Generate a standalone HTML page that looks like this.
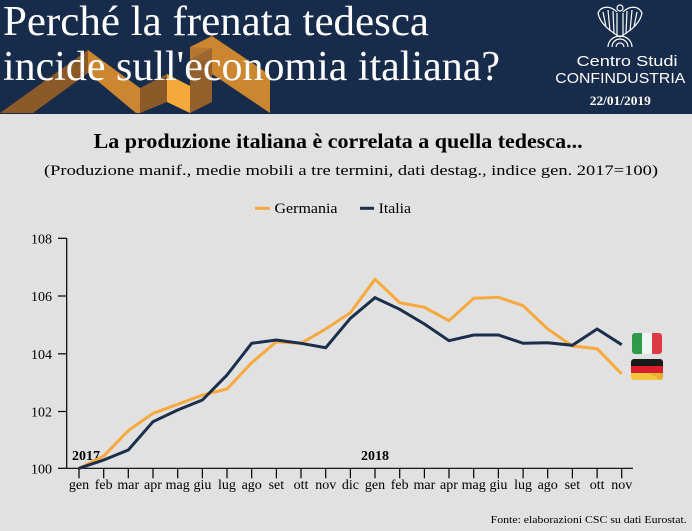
<!DOCTYPE html>
<html><head><meta charset="utf-8">
<style>
html,body{margin:0;padding:0;background:#e1e1e1;}
svg{display:block;}
</style></head><body>
<svg width="692" height="531" viewBox="0 0 692 531" xmlns="http://www.w3.org/2000/svg" font-family="'Liberation Serif', serif">
<rect width="692" height="531" fill="#e1e1e1"/>
<rect width="692" height="114" fill="#172b4b"/>
<!-- decorative ribbon -->
<polygon points="0,113 88,50 88,73 33,113" fill="#8c5a28"/>
<polygon points="88,50 140,88 140,113 136,113 88,73" fill="#cd8630"/>
<polygon points="140,88 167,74 167,102 140,113" fill="#8c5a28"/>
<polygon points="167,74 190,86 190,113 167,102" fill="#f5a93b"/>
<polygon points="190,60 212,48 212,102 190,113" fill="#93602b"/>
<polygon points="190,47 212,36 212,48 190,60" fill="#cd8630"/>
<polygon points="212,36 270,75 270,113 212,74" fill="#cd8630"/>
<polygon points="190,47 212,48 212,60 190,60" fill="#a56d2f" opacity="0.6"/>
<text x="3" y="35" font-size="42" fill="#fff" textLength="426" lengthAdjust="spacingAndGlyphs">Perché la frenata tedesca</text>
<text x="3" y="80" font-size="42" fill="#fff" textLength="497" lengthAdjust="spacingAndGlyphs">incide sull'economia italiana?</text>
<!-- logo -->
<g fill="none" stroke="#fff" stroke-width="1.2">
<circle cx="620" cy="8" r="3"/>
<path d="M617,12 C610,5 601,6 598,13 C600,24 610,31 620,37"/>
<path d="M623,12 C630,5 639,6 642,13 C640,24 630,31 620,37"/>
<path d="M603,12 L606,27 M608,10 L610,31 M613,11 L614,34"/>
<path d="M637,12 L634,27 M632,10 L630,31 M627,11 L626,34"/>
<path d="M617,13 L617,36 M623,13 L623,36"/>
<path d="M608,47 A12,11 0 0 1 632,47"/>
<path d="M612,47 A8,8 0 0 1 628,47"/>
<path d="M616,47 A4,4 0 0 1 624,47"/>
</g>
<text x="627" y="66" font-family="'Liberation Sans', sans-serif" font-size="15" fill="#fff" text-anchor="middle" textLength="101" lengthAdjust="spacingAndGlyphs">Centro Studi</text>
<text x="620.3" y="83" font-family="'Liberation Sans', sans-serif" font-size="15" fill="#fff" text-anchor="middle" textLength="130" lengthAdjust="spacingAndGlyphs">CONFINDUSTRIA</text>
<text x="620.3" y="105" font-size="13" font-weight="bold" fill="#fff" text-anchor="middle" textLength="61" lengthAdjust="spacingAndGlyphs">22/01/2019</text>
<!-- chart titles -->
<text x="93.6" y="148" font-size="21" font-weight="bold" fill="#000" textLength="489" lengthAdjust="spacingAndGlyphs">La produzione italiana è correlata a quella tedesca...</text>
<text x="44" y="175" font-size="15" fill="#000" textLength="614" lengthAdjust="spacingAndGlyphs">(Produzione manif., medie mobili a tre termini, dati destag., indice gen. 2017=100)</text>
<!-- legend -->
<line x1="255" y1="208.3" x2="270" y2="208.3" stroke="#f7a93c" stroke-width="3"/>
<text x="274.5" y="213" font-size="15" fill="#000" textLength="63" lengthAdjust="spacingAndGlyphs">Germania</text>
<line x1="360" y1="208.3" x2="374" y2="208.3" stroke="#1b2e4b" stroke-width="3"/>
<text x="378.6" y="213" font-size="15" fill="#000" textLength="32.4" lengthAdjust="spacingAndGlyphs">Italia</text>
<!-- axes -->
<g stroke="#000" stroke-width="1.2" fill="none">
<line x1="66.7" y1="238" x2="66.7" y2="468.3"/>
<line x1="66.7" y1="468.3" x2="633" y2="468.3"/>
<line x1="58" y1="238.3" x2="66.7" y2="238.3"/>
<line x1="58" y1="296" x2="66.7" y2="296"/>
<line x1="58" y1="353.8" x2="66.7" y2="353.8"/>
<line x1="58" y1="411.5" x2="66.7" y2="411.5"/>
<line x1="58" y1="468.3" x2="66.7" y2="468.3"/>
<path d="M79,468.3v10 M103.7,468.3v10 M128.3,468.3v10 M153,468.3v10 M177.7,468.3v10 M202.4,468.3v10 M227,468.3v10 M251.7,468.3v10 M276.4,468.3v10 M301,468.3v10 M325.7,468.3v10 M350.4,468.3v10 M375,468.3v10 M399.7,468.3v10 M424.4,468.3v10 M449,468.3v10 M473.7,468.3v10 M498.4,468.3v10 M523.1,468.3v10 M547.7,468.3v10 M572.4,468.3v10 M597.1,468.3v10 M621.7,468.3v10"/>
</g>
<g font-size="14" fill="#000" text-anchor="end">
<text x="52" y="243.3">108</text>
<text x="52" y="301">106</text>
<text x="52" y="358.8">104</text>
<text x="52" y="416.5">102</text>
<text x="52" y="473.3">100</text>
</g>
<g font-size="14" fill="#000" text-anchor="middle">
<text x="79" y="489">gen</text>
<text x="103.7" y="489">feb</text>
<text x="128.3" y="489">mar</text>
<text x="153" y="489">apr</text>
<text x="177.7" y="489">mag</text>
<text x="202.4" y="489">giu</text>
<text x="227" y="489">lug</text>
<text x="251.7" y="489">ago</text>
<text x="276.4" y="489">set</text>
<text x="301" y="489">ott</text>
<text x="325.7" y="489">nov</text>
<text x="350.4" y="489">dic</text>
<text x="375" y="489">gen</text>
<text x="399.7" y="489">feb</text>
<text x="424.4" y="489">mar</text>
<text x="449" y="489">apr</text>
<text x="473.7" y="489">mag</text>
<text x="498.4" y="489">giu</text>
<text x="523.1" y="489">lug</text>
<text x="547.7" y="489">ago</text>
<text x="572.4" y="489">set</text>
<text x="597.1" y="489">ott</text>
<text x="621.7" y="489">nov</text>
</g>
<text x="72" y="460" font-size="14" font-weight="bold" fill="#000">2017</text>
<text x="375" y="460" font-size="14" font-weight="bold" fill="#000" text-anchor="middle">2018</text>
<!-- series -->
<polyline fill="none" stroke="#f7a93c" stroke-width="3" points="79,468.3 103.7,456 128.3,430.7 153,413.3 177.7,404.3 202.4,395 227,389 251.7,362.7 276.4,341.7 301,343.3 325.7,329 350.4,312.7 375,279.3 399.7,302.7 424.4,307.3 449,320.7 473.7,298.3 498.4,297.3 523.1,305.7 547.7,329 572.4,346 597.1,348.7 621.7,374"/>
<polyline fill="none" stroke="#1b2e4b" stroke-width="3" points="79,468.3 103.7,460 128.3,450 153,421.7 177.7,410 202.4,400 227,375 251.7,343.3 276.4,340 301,343.3 325.7,347.7 350.4,318.3 375,297.7 399.7,309.3 424.4,324 449,340.7 473.7,335 498.4,335 523.1,343.3 547.7,342.7 572.4,345.3 597.1,329 621.7,344.7"/>
<!-- flags -->
<defs>
<clipPath id="itc"><rect x="632" y="333" width="30" height="21" rx="3"/></clipPath>
<clipPath id="dec"><rect x="631" y="359" width="32" height="21" rx="3"/></clipPath>
</defs>
<g clip-path="url(#itc)">
<rect x="632" y="333" width="10" height="21" fill="#2e9a4a"/>
<rect x="642" y="333" width="10" height="21" fill="#eef6f4"/>
<rect x="652" y="333" width="10" height="21" fill="#dc3a44"/>
</g>
<g clip-path="url(#dec)">
<rect x="631" y="359" width="32" height="7" fill="#1a1a1a"/>
<rect x="631" y="366" width="32" height="7" fill="#d7202a"/>
<rect x="631" y="373" width="32" height="7" fill="#f5c542"/>
<polygon points="650,373 663,373 663,380 660,380" fill="#dcaa30" opacity="0.7"/>
</g>
<!-- footer -->
<text x="686.7" y="523" font-size="11" fill="#000" text-anchor="end" textLength="196" lengthAdjust="spacingAndGlyphs">Fonte: elaborazioni CSC su dati Eurostat.</text>
</svg>
</body></html>
